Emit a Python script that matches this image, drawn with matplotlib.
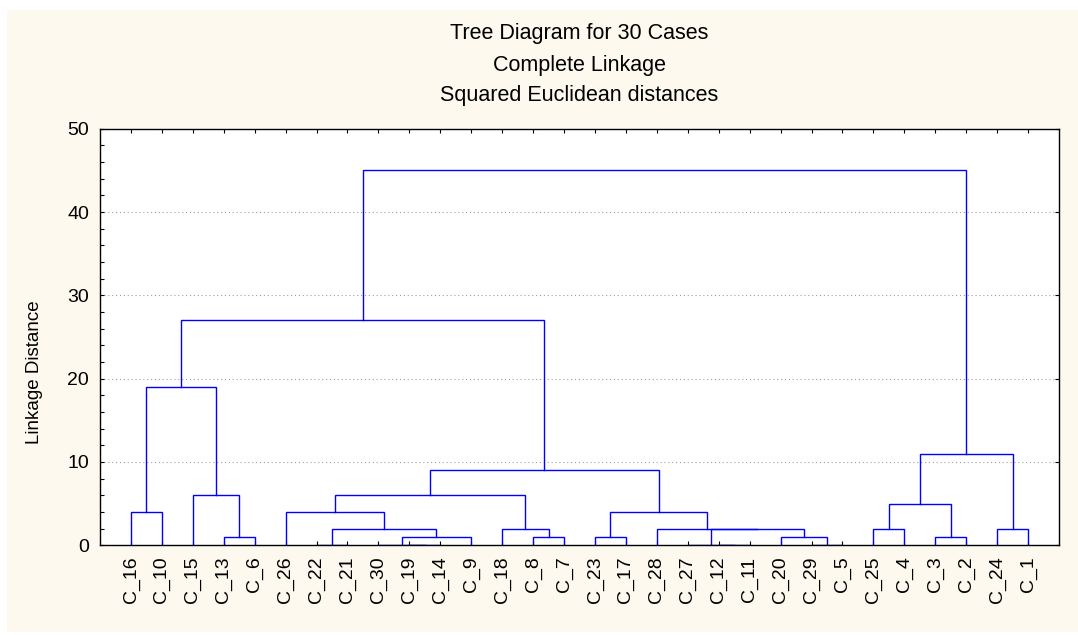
import matplotlib.pyplot as plt
from matplotlib.patches import Rectangle
from matplotlib.ticker import MultipleLocator

plt.rcParams['font.family'] = ['Liberation Sans', 'DejaVu Sans']

# leaf order along the x axis
leaves = ['C_16', 'C_10', 'C_15', 'C_13', 'C_6', 'C_26', 'C_22', 'C_21', 'C_30', 'C_19',
          'C_14', 'C_9', 'C_18', 'C_8', 'C_7', 'C_23', 'C_17', 'C_28', 'C_27', 'C_12',
          'C_11', 'C_20', 'C_29', 'C_5', 'C_25', 'C_4', 'C_3', 'C_2', 'C_24', 'C_1']

# merges: left child, right child, linkage distance ('mN' = result of merge N)
merge_left = ['C_16', 'C_13', 'C_15', 'm0', 'C_22', 'C_19', 'C_30', 'm6', 'm4', 'C_26',
              'C_8', 'C_18', 'm9', 'C_23', 'C_12', 'C_27', 'C_29', 'C_20', 'm15', 'C_28',
              'm13', 'm12', 'm3', 'C_25', 'C_3', 'm23', 'C_24', 'm25', 'm22']
merge_right = ['C_10', 'C_6', 'm1', 'm2', 'C_21', 'C_14', 'm5', 'C_9', 'm7', 'm8',
               'C_7', 'm10', 'm11', 'C_17', 'C_11', 'm14', 'C_5', 'm16', 'm17', 'm18',
               'm19', 'm20', 'm21', 'C_4', 'C_2', 'm24', 'C_1', 'm26', 'm27']
merge_height = [4, 1, 6, 19, 0, 0, 0, 1, 2, 4,
                1, 2, 6, 1, 0, 0, 0, 1, 2, 2,
                4, 9, 27, 2, 1, 5, 2, 11, 45]

fig = plt.figure(figsize=(10.78, 6.35), dpi=100, facecolor='white')
fig.patches.append(Rectangle((7 / 1078, 3 / 635), 1, (632 - 10) / 635,
                             transform=fig.transFigure, facecolor='#fdf9ee',
                             edgecolor='none', zorder=-5))
ax = fig.add_axes([100 / 1078, 1 - 545.3 / 635, 959 / 1078, 416.6 / 635])
ax.set_facecolor('white')

pos = {name: (i, 0) for i, name in enumerate(leaves)}
for k, (a, b, h) in enumerate(zip(merge_left, merge_right, merge_height)):
    xa, ha = pos[a]
    xb, hb = pos[b]
    ax.plot([xa, xa, xb, xb], [ha, h, h, hb], color='#0000ff', lw=1.0,
            solid_joinstyle='miter', zorder=2)
    pos['m%d' % k] = ((xa + xb) / 2, h)

ax.set_xlim(-1, len(leaves))
ax.set_ylim(0, 50)
ax.set_xticks(range(len(leaves)))
ax.set_xticklabels(leaves, rotation=90, fontsize=14)
ax.yaxis.set_major_locator(MultipleLocator(10))
ax.yaxis.set_minor_locator(MultipleLocator(2))
ax.tick_params(axis='y', which='major', labelsize=14, pad=8)
ax.tick_params(axis='x', pad=8)
ax.tick_params(which='both', direction='in', length=3, width=0.8,
               top=True, right=True, color='black')
ax.tick_params(which='minor', right=False)
ax.grid(axis='y', which='major', linestyle=(0, (1, 2.5)), color='#a0a0a0', lw=0.8)
ax.set_axisbelow(True)
for sp in ax.spines.values():
    sp.set_linewidth(1.0)
    sp.set_zorder(3)

fig.text(579.5 / 1078, 1 - 34 / 635, 'Tree Diagram for 30 Cases', ha='center', va='center', fontsize=15.5)
fig.text(579.5 / 1078, 1 - 65 / 635, 'Complete Linkage', ha='center', va='center', fontsize=15.5)
fig.text(579.5 / 1078, 1 - 95 / 635, 'Squared Euclidean distances', ha='center', va='center', fontsize=15.5)
fig.text(34.5 / 1078, 1 - 372 / 635, 'Linkage Distance', rotation=90, ha='center', va='center', fontsize=13.5)

fig.savefig('out.png', dpi=100, facecolor=fig.get_facecolor())
